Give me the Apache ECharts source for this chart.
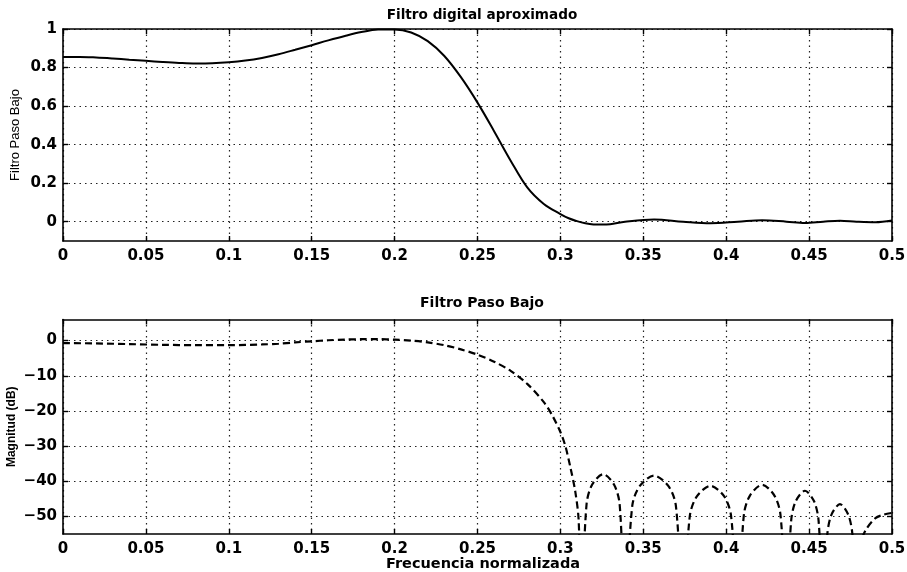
<!DOCTYPE html>
<html>
<head>
<meta charset="utf-8">
<script src="https://cdn.jsdelivr.net/npm/echarts@6/dist/echarts.min.js"></script>
<style>
html,body{margin:0;padding:0;background:#fff;}
#c{width:907px;height:572px;}
</style>
</head>
<body>
<div id="c"></div>
<script>
// ---- data ----
const topTitle = 'Filtro digital aproximado';
const bottomTitle = 'Filtro Paso Bajo';
const topYName = 'Filtro Paso Bajo';
const bottomYName = 'Magnitud (dB)';
const xName = 'Frecuencia normalizada';

const freqTop = [0,0.01,0.02,0.03,0.04,0.05,0.06,0.07,0.08,0.09,0.10,0.11,0.12,0.13,0.14,0.15,0.16,0.17,0.18,0.19,0.20,0.21,0.22,0.23,0.24,0.25,0.26,0.27,0.28,0.29,0.30,0.305,0.31,0.315,0.32,0.325,0.33,0.339,0.3565,0.374,0.3905,0.407,0.4217,0.4364,0.4475,0.4585,0.4686,0.4786,0.49,0.5];
const ampTop = [0.855,0.855,0.852,0.847,0.841,0.835,0.829,0.824,0.821,0.822,0.827,0.836,0.850,0.869,0.892,0.916,0.941,0.964,0.984,0.997,0.998,0.982,0.937,0.860,0.750,0.618,0.470,0.317,0.178,0.092,0.040,0.018,0.003,-0.008,-0.014,-0.015,-0.013,0.0,0.012,0.0,-0.008,0.0,0.008,0.0,-0.007,0.0,0.005,0.0,-0.003,0.006];

const freqDb = [0,0.02,0.04,0.06,0.08,0.10,0.12,0.13,0.14,0.15,0.16,0.17,0.18,0.19,0.20,0.21,0.22,0.23,0.24,0.25,0.26,0.27,0.28,0.29,0.295,0.30,0.303,0.306,0.309,0.311,0.3125,
  0.3158,0.3191,0.3258,0.3324,0.3357,0.339,
  0.3434,0.3478,0.3565,0.3652,0.3696,0.374,
  0.3781,0.3823,0.3905,0.3988,0.4029,0.407,
  0.4107,0.4144,0.4217,0.429,0.4327,0.4364,
  0.4392,0.4419,0.4475,0.453,0.4557,0.4585,
  0.461,0.4635,0.4686,0.4736,0.4761,0.4786,
  0.4811,0.484,0.49,0.495,0.5];
const magDb = [-0.7,-0.8,-1.0,-1.2,-1.3,-1.3,-1.1,-0.9,-0.5,-0.2,0.1,0.3,0.4,0.4,0.3,0.0,-0.5,-1.3,-2.5,-4.0,-6.0,-8.6,-12.3,-17.5,-21.2,-26,-30,-36,-43,-51,-75,
  -46.4,-41,-38,-41,-46.4,-75,
  -46.8,-41.4,-38.4,-41.4,-46.8,-75,
  -49.7,-44.3,-41.3,-44.3,-49.7,-75,
  -49.4,-44,-41,-44,-49.4,-75,
  -51.1,-45.7,-42.7,-45.7,-51.1,-75,
  -55,-49.5,-46.5,-49.5,-55,-75,
  -58,-54,-50.5,-49.5,-49];

const xTicks = {min:0, max:0.5, interval:0.05};
const topY = {min:-0.1, max:1, ticks:[0,0.2,0.4,0.6,0.8,1]};
const botY = {min:-55, max:6, ticks:[-50,-40,-30,-20,-10,0]};

// ---- chart ----
const chart = echarts.init(document.getElementById('c'), null, {renderer:'canvas'});
const lblFont = {fontFamily:'DejaVu Sans', fontWeight:'bold', fontSize:15, color:'#000'};
const boxLine = {show:true, onZero:false, lineStyle:{color:'#000', width:1.6}};
const tickIn = {show:true, inside:true, length:5, lineStyle:{color:'#000', width:1.4}};
const dotted = {show:true, lineStyle:{color:'#222', width:1.2, type:[1.5,4]}};

function xAxes(gi){
  return [
    {type:'value', gridIndex:gi, position:'bottom', min:xTicks.min, max:xTicks.max, interval:xTicks.interval,
     axisLine:boxLine, axisTick:tickIn, splitLine:dotted,
     axisLabel:Object.assign({show:true, margin:8, formatter:v=>String(+v.toFixed(2))}, lblFont)},
    {type:'value', gridIndex:gi, position:'top', min:xTicks.min, max:xTicks.max, interval:xTicks.interval,
     axisLine:boxLine, axisTick:tickIn, splitLine:{show:false}, axisLabel:{show:false}}
  ];
}
function yAxes(gi, cfg, name, nameGap, nameFont){
  const customValues = cfg.ticks;
  return [
    {type:'value', gridIndex:gi, position:'left', min:cfg.min, max:cfg.max,
     axisLine:boxLine, axisTick:Object.assign({customValues}, tickIn), splitLine:dotted,
     axisLabel:Object.assign({show:true, margin:6, customValues, formatter:v=>String(+v.toFixed(2)).replace('-','\u2212')}, lblFont),
     name:name, nameLocation:'middle', nameRotate:90, nameGap:nameGap, nameMoveOverlap:false, nameTextStyle:nameFont},
    {type:'value', gridIndex:gi, position:'right', min:cfg.min, max:cfg.max,
     axisLine:boxLine, axisTick:Object.assign({customValues}, tickIn), splitLine:{show:false}, axisLabel:{show:false}}
  ];
}

const option = {
  backgroundColor:'#fff',
  animation:false,
  title:[
    {text:topTitle, left:477, top:3, textAlign:'center', textStyle:{fontFamily:'DejaVu Sans', fontWeight:'bold', fontSize:13.6, color:'#000'}},
    {text:bottomTitle, left:477, top:291, textAlign:'center', textStyle:{fontFamily:'DejaVu Sans', fontWeight:'bold', fontSize:14, color:'#000'}},
    {text:xName, left:478, top:552, textAlign:'center', textStyle:{fontFamily:'DejaVu Sans', fontWeight:'bold', fontSize:14.5, color:'#000'}}
  ],
  grid:[
    {left:63, top:29, width:829, height:212, outerBoundsMode:'none', containLabel:false},
    {left:63, top:319.5, width:829, height:214.5, outerBoundsMode:'none', containLabel:false}
  ],
  xAxis:[...xAxes(0), ...xAxes(1)],
  yAxis:[
    ...yAxes(0, topY, topYName, 41, {fontFamily:'Liberation Sans', fontSize:13, color:'#000'}),
    ...yAxes(1, botY, bottomYName, 45, {fontFamily:'Liberation Sans', fontWeight:'bold', fontSize:12, color:'#000'})
  ],
  series:[
    {type:'line', xAxisIndex:0, yAxisIndex:0, data:freqTop.map((f,i)=>[f, ampTop[i]]),
     showSymbol:false, smooth:0.35, lineStyle:{color:'#000', width:2}, clip:true},
    {type:'line', xAxisIndex:2, yAxisIndex:2, data:freqDb.map((f,i)=>[f, magDb[i]]),
     showSymbol:false, smooth:0.3, lineStyle:{color:'#000', width:2.2, type:[7,4]}, clip:true}
  ]
};
chart.setOption(option);
</script>
</body>
</html>
